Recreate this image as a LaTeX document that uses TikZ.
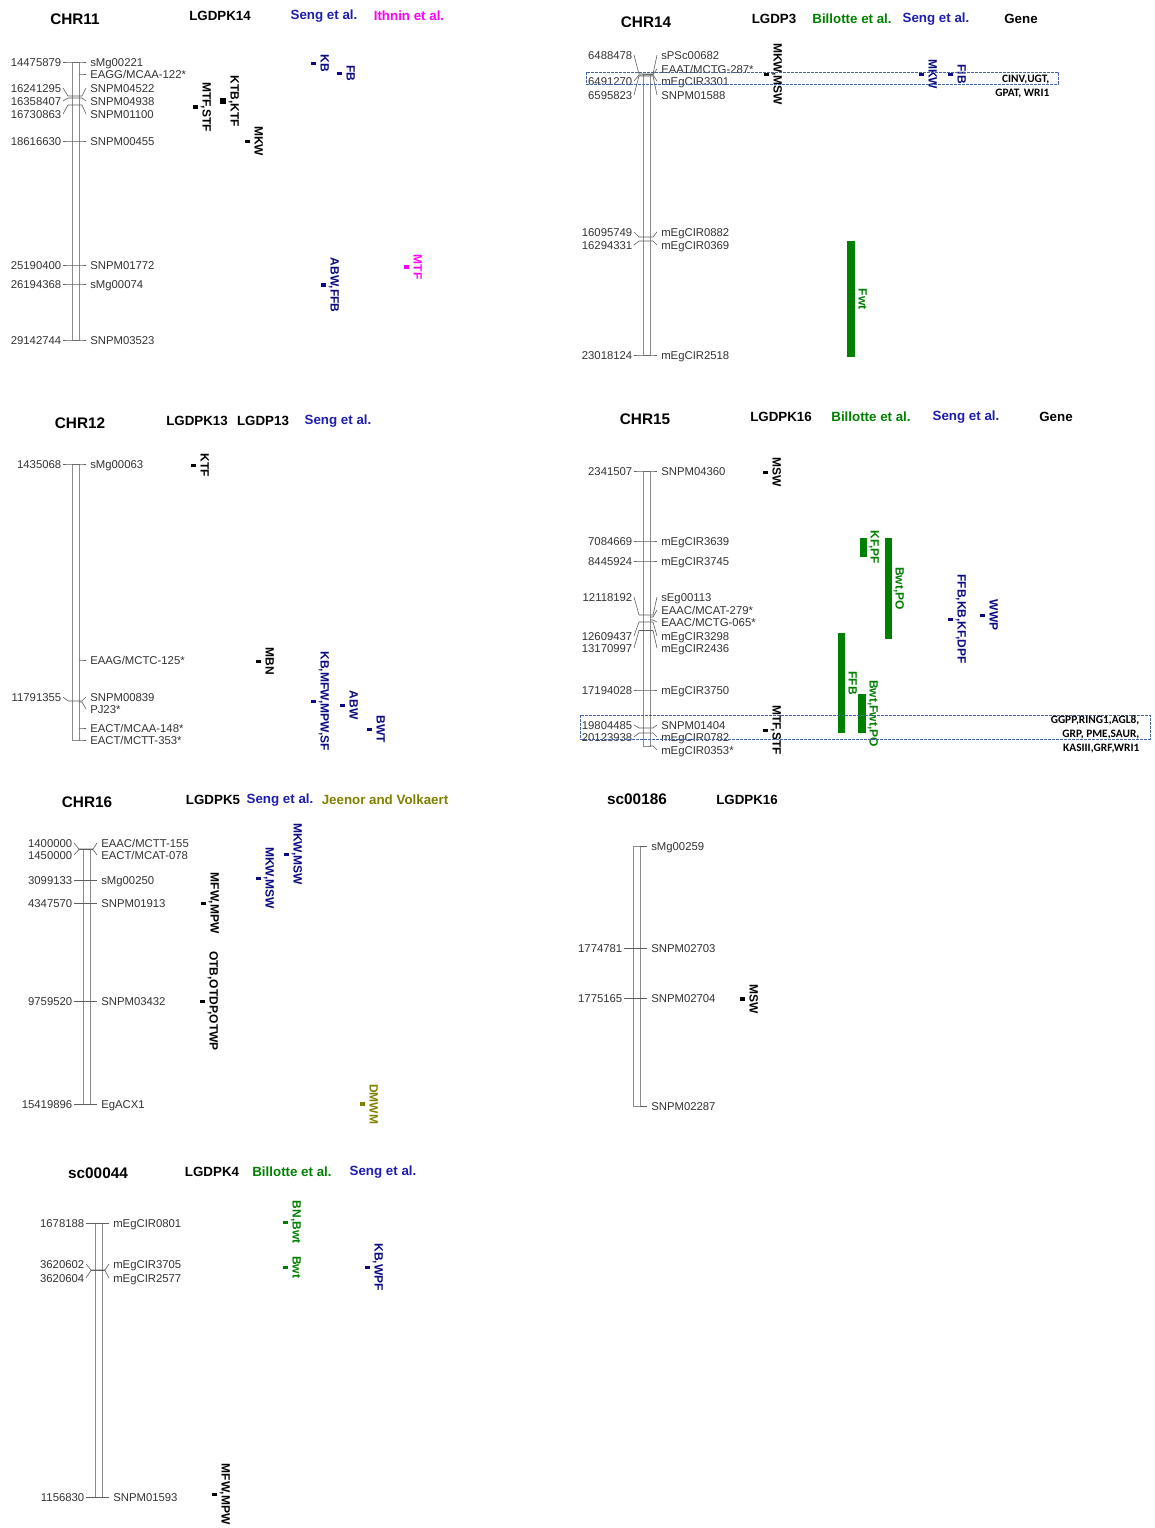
\documentclass[tikz,border=0pt]{standalone}
\usepackage{fontspec}
\setmainfont{Liberation Sans}
\newfontfamily\genefont{Carlito}
\usetikzlibrary{calc}

\definecolor{sengc}{RGB}{30,30,175}
\definecolor{qblue}{RGB}{10,10,130}
\definecolor{qgreen}{RGB}{0,128,0}
\definecolor{qpink}{RGB}{255,0,255}
\definecolor{qolive}{RGB}{128,128,0}
\definecolor{chrgray}{RGB}{140,140,140}
\definecolor{tickgray}{RGB}{95,95,95}
\definecolor{boxblue}{RGB}{70,100,165}

% marker with position: id, left x of chromosome, y on chromosome, y of labels, bp, name
\newcommand\mkpair[6]{%
  \node[num] (#1l) at (#2-9,#4) {#5};
  \node[mrk] (#1r) at (#2+14,#4) {#6};
  \draw[tk] (#1l.east) -- (#2-4,#3) -- (#2+10,#3) -- (#1r.west);}
% marker without position
\newcommand\mkright[5]{%
  \node[mrk] (#1r) at (#2+14,#4) {#5};
  \draw[tk] (#2+7,#3) -- (#2+10,#3) -- (#1r.west);}
% qtl bar: id, colour, x, y, width, height, trait
\newcommand\qtlbar[7]{%
  \node[qbar,fill=#2,minimum width=#5*0.75pt,minimum height=#6*0.75pt] (#1) at (#3,#4) {};
  \node[qlab,text=#2] (#1t) at ([xshift=9pt]#1.center) {#7};}

\begin{document}
\begin{tikzpicture}[x=0.75pt,y=-0.75pt,
  ttl/.style={font=\bfseries\fontsize{11.5}{13}\selectfont},
  hdr/.style={font=\bfseries\fontsize{10}{12}\selectfont},
  num/.style={anchor=east,font=\fontsize{8.5}{10}\selectfont,text=black!80,
              inner xsep=1.1pt,inner ysep=0pt,text height=6.1pt,text depth=0pt},
  mrk/.style={anchor=west,font=\fontsize{8.5}{10}\selectfont,text=black!80,
              inner xsep=3pt,inner ysep=0pt,text height=6.1pt,text depth=0pt},
  tk/.style={draw=tickgray,line width=0.45pt},
  chr/.style={draw=chrgray,line width=0.6pt},
  qbar/.style={rectangle,draw=none,inner sep=0pt,outer sep=0pt},
  qlab/.style={rotate=-90,font=\bfseries\fontsize{9}{10}\selectfont,inner sep=0pt,
               text height=6.5pt,text depth=0pt},
  gene/.style={anchor=east,align=right,font=\genefont\bfseries\fontsize{8.5}{10.5}\selectfont},
  hl/.style={draw=boxblue,line width=0.6pt,dash pattern=on 2pt off 1pt}]
\useasboundingbox[fill=white] (0,0) rectangle (1154,1528);

% CHR11
\node[ttl] (t11) at (75,19) {CHR11};
\node[hdr] (h11a) at (220,16) {LGDPK14};
\node[hdr,text=sengc] (h11b) at (324,16) {Seng et al.};
\node[hdr,text=qpink] (h11c) at (409,16) {Ithnin et al.};
\draw[chr] (72,62) rectangle (79,340);
\mkpair{a1}{72}{62}{62}{14475879}{sMg00221}
\mkright{a2}{72}{74}{74}{EAGG/MCAA-122*}
\mkpair{a3}{72}{96}{88}{16241295}{SNPM04522}
\mkpair{a4}{72}{98}{101}{16358407}{SNPM04938}
\mkpair{a5}{72}{105}{114}{16730863}{SNPM01100}
\mkpair{a6}{72}{141}{141}{18616630}{SNPM00455}
\mkpair{a7}{72}{265}{265}{25190400}{SNPM01772}
\mkpair{a8}{72}{284}{284}{26194368}{sMg00074}
\mkpair{a9}{72}{340}{340}{29142744}{SNPM03523}
\qtlbar{q1}{black}{195}{107}{5}{4}{MTF,STF}
\qtlbar{q2}{black}{223}{101}{6}{6}{KTB,KTF}
\qtlbar{q3}{black}{247}{141}{5}{3}{MKW}
\qtlbar{q4}{qblue}{313}{63}{5}{3}{KB}
\qtlbar{q5}{qblue}{339}{73}{5}{3}{FB}
\qtlbar{q6}{qblue}{323}{285}{5}{4}{ABW,FFB}
\qtlbar{q7}{qpink}{406}{267}{5}{4}{MTF}

% CHR14
\node[ttl] (t14) at (646,22) {CHR14};
\node[hdr] (h14a) at (774,19) {LGDP3};
\node[hdr,text=qgreen] (h14b) at (852,19) {Billotte et al.};
\node[hdr,text=sengc] (h14c) at (936,19) {Seng et al.};
\node[hdr] (h14d) at (1021,19) {Gene};
\draw[chr] (643,74) rectangle (650,355);
\mkpair{b1}{643}{74}{55}{6488478}{sPSc00682}
\mkright{b2}{643}{74.5}{69}{EAAT/MCTG-287*}
\mkpair{b3}{643}{75}{81}{6491270}{mEgCIR3301}
\mkpair{b4}{643}{76}{95}{6595823}{SNPM01588}
\mkpair{b5}{643}{237}{232}{16095749}{mEgCIR0882}
\mkpair{b6}{643}{241}{245}{16294331}{mEgCIR0369}
\mkpair{b7}{643}{355}{355}{23018124}{mEgCIR2518}
\qtlbar{b8}{black}{766}{74}{5}{3}{MKW,MSW}
\qtlbar{b9}{qblue}{921}{74}{5}{3}{MKW}
\qtlbar{b10}{qblue}{950}{74}{5}{3}{FIB}
\qtlbar{b11}{qgreen}{851}{299}{8}{116}{Fwt}
\draw[hl] (586,72) rectangle (1058,84);
\node[gene] (g14) at (1054,87) {CINV,UGT,\\GPAT, WRI1};

% CHR12
\node[ttl] (t12) at (80,423) {CHR12};
\node[hdr] (h12a) at (197,421) {LGDPK13};
\node[hdr] (h12b) at (263,421) {LGDP13};
\node[hdr,text=sengc] (h12c) at (338,421) {Seng et al.};
\draw[chr] (72,464) rectangle (79,740);
\mkpair{c1}{72}{464}{464}{1435068}{sMg00063}
\mkright{c2}{72}{660}{660}{EAAG/MCTC-125*}
\mkpair{c3}{72}{701}{697}{11791355}{SNPM00839}
\mkright{c4}{72}{702}{709}{PJ23*}
\mkright{c5}{72}{728}{728}{EACT/MCAA-148*}
\mkright{c6}{72}{740}{740}{EACT/MCTT-353*}
\qtlbar{c7}{black}{193}{465}{5}{3}{KTF}
\qtlbar{c8}{black}{258}{661}{5}{3}{MBN}
\qtlbar{c9}{qblue}{313}{701}{5}{3}{KB,MFW,MPW,SF}
\qtlbar{c10}{qblue}{342}{705}{5}{3}{ABW}
\qtlbar{c11}{qblue}{369}{729}{5}{3}{BWT}

% CHR15
\node[ttl] (t15) at (645,419) {CHR15};
\node[hdr] (h15a) at (781,417) {LGDPK16};
\node[hdr,text=qgreen] (h15b) at (871,417) {Billotte et al.};
\node[hdr,text=sengc] (h15c) at (966,417) {Seng et al.};
\node[hdr] (h15d) at (1056,417) {Gene};
\draw[chr] (643,471) rectangle (650,746);
\mkpair{d1}{643}{471}{471}{2341507}{SNPM04360}
\mkpair{d2}{643}{541}{541}{7084669}{mEgCIR3639}
\mkpair{d3}{643}{561}{561}{8445924}{mEgCIR3745}
\mkpair{d4}{643}{615}{597}{12118192}{sEg00113}
\mkright{d5}{643}{617}{610}{EAAC/MCAT-279*}
\mkright{d6}{643}{620}{622}{EAAC/MCTG-065*}
\mkpair{d7}{643}{622}{636}{12609437}{mEgCIR3298}
\mkpair{d8}{643}{630.5}{648}{13170997}{mEgCIR2436}
\mkpair{d9}{643}{690}{690}{17194028}{mEgCIR3750}
\mkpair{d10}{643}{728}{725}{19804485}{SNPM01404}
\mkpair{d11}{643}{733}{737}{20123938}{mEgCIR0782}
\mkright{d12}{643}{746}{750}{mEgCIR0353*}
\qtlbar{d13}{black}{765}{472}{5}{3}{MSW}
\qtlbar{d14}{black}{765}{730}{5}{3}{MTF,STF}
\qtlbar{d15}{qgreen}{863}{547}{7}{19}{KF,PF}
\qtlbar{d16}{qgreen}{888}{588.5}{7}{101}{Bwt,PO}
\qtlbar{d17}{qgreen}{841}{683}{7}{100}{FFB}
\qtlbar{d18}{qgreen}{862}{713.5}{8}{39}{Bwt,Fwt,PO}
\qtlbar{d19}{qblue}{950}{619}{5}{3}{FFB,KB,KF,DPF}
\qtlbar{d20}{qblue}{982}{615}{5}{3}{WWP}
\draw[hl] (580,715) rectangle (1150,739);
\node[gene] (g15) at (1144,734) {GGPP,RING1,AGL8,\\GRP, PME,SAUR,\\KASIII,GRF,WRI1};

% CHR16
\node[ttl] (t16) at (87,802) {CHR16};
\node[hdr] (h16a) at (213,800) {LGDPK5};
\node[hdr,text=sengc] (h16b) at (280,800) {Seng et al.};
\node[hdr,text=qolive] (h16c) at (385,800) {Jeenor and Volkaert};
\draw[chr] (83,849) rectangle (90,1104);
\mkpair{e1}{83}{849}{843}{1400000}{EAAC/MCTT-155}
\mkpair{e2}{83}{849.5}{855}{1450000}{EACT/MCAT-078}
\mkpair{e3}{83}{880}{880}{3099133}{sMg00250}
\mkpair{e4}{83}{903}{903}{4347570}{SNPM01913}
\mkpair{e5}{83}{1001}{1001}{9759520}{SNPM03432}
\mkpair{e6}{83}{1104}{1104}{15419896}{EgACX1}
\qtlbar{e7}{black}{203}{903}{5}{3}{MFW,MPW}
\qtlbar{e8}{qblue}{258}{878}{5}{3}{MKW,MSW}
\qtlbar{e9}{qblue}{286}{854}{5}{3}{MKW,MSW}
\qtlbar{e10}{black}{202}{1001}{5}{3}{OTB,OTDP,OTWP}
\qtlbar{e11}{qolive}{362}{1104}{5}{4}{DMWM}

% sc00186
\node[ttl] (t86) at (637,799) {sc00186};
\node[hdr] (h86a) at (747,800) {LGDPK16};
\draw[chr] (633,846) rectangle (640,1106);
\mkright{f1}{633}{846}{846}{sMg00259}
\mkpair{f2}{633}{948}{948}{1774781}{SNPM02703}
\mkpair{f3}{633}{998}{998}{1775165}{SNPM02704}
\mkright{f4}{633}{1106}{1106}{SNPM02287}
\qtlbar{f5}{black}{742}{999}{5}{4}{MSW}

% sc00044
\node[ttl] (t44) at (98,1173) {sc00044};
\node[hdr] (h44a) at (212,1172) {LGDPK4};
\node[hdr,text=qgreen] (h44b) at (292,1172) {Billotte et al.};
\node[hdr,text=sengc] (h44c) at (383,1172) {Seng et al.};
\draw[chr] (95,1223) rectangle (102,1497);
\mkpair{g1}{95}{1223}{1223}{1678188}{mEgCIR0801}
\mkpair{g2}{95}{1270}{1264}{3620602}{mEgCIR3705}
\mkpair{g3}{95}{1270.5}{1278}{3620604}{mEgCIR2577}
\mkpair{g4}{95}{1497}{1497}{1156830}{SNPM01593}
\qtlbar{g5}{qgreen}{285}{1222}{5}{3}{BN,Bwt}
\qtlbar{g6}{qgreen}{285}{1267}{5}{3}{Bwt}
\qtlbar{g7}{qblue}{367}{1267}{5}{3}{KB,WPF}
\qtlbar{g8}{black}{214}{1494}{5}{3}{MFW,MPW}
\end{tikzpicture}
\end{document}
